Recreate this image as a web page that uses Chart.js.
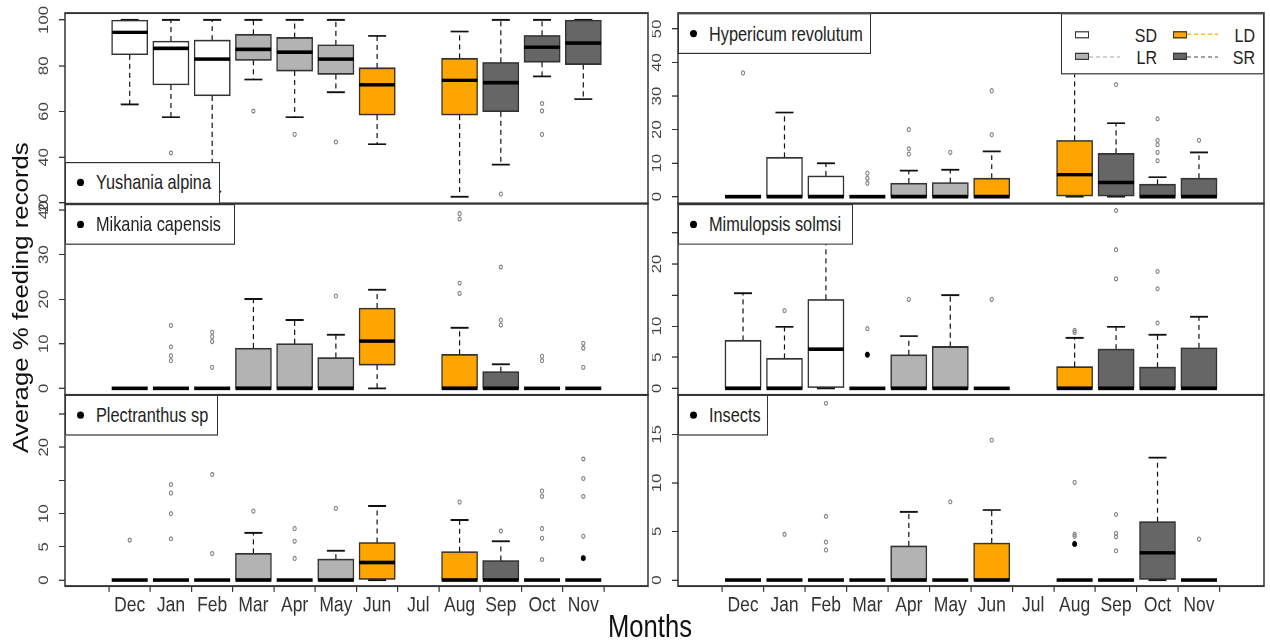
<!DOCTYPE html>
<html>
<head>
<meta charset="utf-8">
<script src="https://cdn.jsdelivr.net/npm/chart.js@4.4.0/dist/chart.umd.min.js"></script>
<style>
  html, body { margin: 0; padding: 0; background: #fff; overflow: hidden; }
  body { width: 1270px; height: 644px; position: relative; font-family: "Liberation Sans", Arial, sans-serif; }
  /* the reference is stretched vertically by about 1.2, so draw in an unstretched stage and scale it */
  #stage { position: absolute; left: 0; top: 0; width: 1270px; height: 536.67px; transform: scaleY(1.2); transform-origin: 0 0; }
  canvas { position: absolute; }
  .tag { position: absolute; background: #fff; border: 1px solid #333; box-sizing: border-box; z-index: 2; color: #222; font-size: 16.3px; white-space: nowrap; }
  .tag .dot { position: absolute; left: 11px; top: 50%; width: 7px; height: 6px; margin-top: -3px; border-radius: 50%; background: #000; }
  .tag .txt { position: absolute; left: 30px; top: 50%; transform: translateY(-50%); line-height: 1; }
  #groups { position: absolute; left: 1061px; top: 10.83px; width: 203px; height: 50.8px; background: #fff; border: 1px solid #333; box-sizing: border-box; z-index: 2; }
  .gsq { position: absolute; width: 14px; height: 5.6px; border: 1px solid #333; box-sizing: border-box; }
  .gline { position: absolute; height: 1px; }
  .gtxt { position: absolute; font-size: 16px; color: #222; line-height: 1; transform: translate(-100%, -50%); }
  #ytitle { position: absolute; left: 22px; top: 248px; transform: translate(-50%, -50%) rotate(-90deg); font-size: 21.5px; color: #111; white-space: nowrap; line-height: 1; }
  #xtitle { position: absolute; left: 650px; top: 510px; transform: translateX(-50%); font-size: 25.6px; color: #111; white-space: nowrap; line-height: 1; }
</style>
</head>
<body>
<div id="stage">
  <div id="ytitle">Average % feeding records</div>
  <div id="xtitle">Months</div>
  <div id="groups"></div>
</div>
<script>
const FONT = '"Liberation Sans", Arial, sans-serif';

const months = ['Dec', 'Jan', 'Feb', 'Mar', 'Apr', 'May', 'Jun', 'Jul', 'Aug', 'Sep', 'Oct', 'Nov'];
const monthGroup = ['SD', 'SD', 'SD', 'LR', 'LR', 'LR', 'LD', null, 'LD', 'SR', 'SR', 'SR'];
const groupNames = ['SD', 'LR', 'LD', 'SR'];
const groupColors = ['#ffffff', '#b3b3b3', '#ffa500', '#666666'];

// each month: [lower whisker, Q1, median, Q3, upper whisker]
const Z = [0, 0, 0, 0, 0];

const yushaniaStats = [
  [63.1, 84.8, 94.6, 100, 100],
  [57.5, 71.6, 87.6, 90.8, 100],
  [25, 66.9, 82.9, 91.2, 100],
  [74.0, 82.4, 87.2, 93.7, 100],
  [57.5, 77.7, 85.9, 92.3, 100],
  [68.4, 76.2, 82.9, 89.1, 100],
  [45.7, 58.4, 71.7, 79.1, 93.1],
  null,
  [22.7, 58.4, 73.6, 83.2, 95.0],
  [36.8, 59.9, 72.6, 81.5, 100],
  [75.4, 81.5, 88.1, 93.3, 100],
  [65.4, 80.6, 89.9, 100, 100]
];
const yushaniaOut = [['Jan', 41.9], ['Mar', 60.2], ['Apr', 50.0], ['May', 46.7], ['Sep', 23.9],
  ['Oct', 63.5], ['Oct', 60.3], ['Oct', 50.0]];

const mikaniaStats = [
  Z, Z, Z,
  [0, 0, 0, 9.0, 20.0],
  [0, 0, 0, 10.0, 15.3],
  [0, 0, 0, 6.9, 12.0],
  [0, 5.2, 10.6, 18.0, 22.1],
  null,
  [0, 0, 0, 7.6, 13.6],
  [0, 0, 0, 3.7, 5.4],
  Z, Z
];
const mikaniaOut = [['Jan', 14.1], ['Jan', 9.3], ['Jan', 7.3], ['Jan', 6.2],
  ['Feb', 12.6], ['Feb', 11.6], ['Feb', 10.5], ['Feb', 4.7], ['May', 20.7],
  ['Aug', 39.2], ['Aug', 38.0], ['Aug', 23.6], ['Aug', 21.3],
  ['Sep', 27.2], ['Sep', 15.3], ['Sep', 14.2], ['Oct', 7.2], ['Oct', 6.2],
  ['Nov', 10.1], ['Nov', 9.0], ['Nov', 4.7]];

const plectranthusStats = [
  Z, Z, Z,
  [0, 0, 0, 4.0, 7.1],
  Z,
  [0, 0, 0, 3.15, 4.4],
  [0, 0, 2.65, 5.65, 11.15],
  null,
  [0, 0, 0, 4.25, 9.05],
  [0, 0, 0, 2.95, 5.85],
  Z, Z
];
const plectranthusOut = [['Dec', 6.0], ['Jan', 14.4], ['Jan', 13.1], ['Jan', 10.0], ['Jan', 6.2],
  ['Feb', 15.9], ['Feb', 4.0], ['Mar', 10.4], ['Apr', 7.75], ['Apr', 5.85], ['Apr', 3.25],
  ['May', 10.8], ['Aug', 11.75], ['Sep', 7.4],
  ['Oct', 13.4], ['Oct', 12.6], ['Oct', 7.75], ['Oct', 6.3], ['Oct', 3.1],
  ['Nov', 18.25], ['Nov', 15.3], ['Nov', 12.6], ['Nov', 6.6]];
const plectranthusDark = [['Nov', 3.3]];

const hypericumStats = [
  Z,
  [0, 0, 0, 11.7, 25.1],
  [0, 0, 0, 6.2, 10.0],
  Z,
  [0, 0, 0, 4.0, 7.8],
  [0, 0, 0, 4.2, 8.0],
  [0, 0, 0, 5.5, 13.5],
  null,
  [0, 0, 6.6, 16.8, 45],
  [0, 0, 4.2, 12.9, 21.9],
  [0, 0, 0, 3.7, 5.8],
  [0, 0, 0, 5.5, 13.2]
];
const hypericumOut = [['Dec', 36.9], ['Mar', 7.0], ['Mar', 5.5], ['Mar', 4.0],
  ['Apr', 20.0], ['Apr', 14.3], ['Apr', 12.7], ['May', 13.2], ['Jun', 31.6], ['Jun', 18.5],
  ['Sep', 33.4], ['Oct', 23.2], ['Oct', 16.8], ['Oct', 15.5], ['Oct', 13.2], ['Oct', 10.7],
  ['Nov', 16.8]];

const mimulopsisStats = [
  [0, 0, 0, 7.7, 15.3],
  [0, 0, 0, 4.8, 9.9],
  [0, 0, 6.3, 14.3, 26],
  Z,
  [0, 0, 0, 5.4, 8.4],
  [0, 0, 0, 6.7, 15.0],
  Z,
  null,
  [0, 0, 0, 3.5, 8.1],
  [0, 0, 0, 6.3, 9.9],
  [0, 0, 0, 3.4, 8.6],
  [0, 0, 0, 6.5, 11.5]
];
const mimulopsisOut = [['Jan', 12.5], ['Mar', 9.6], ['Apr', 14.3], ['Jun', 14.3],
  ['Aug', 9.3], ['Aug', 9.0], ['Sep', 28.6], ['Sep', 22.3], ['Sep', 17.6],
  ['Oct', 18.8], ['Oct', 16.0], ['Oct', 10.5]];
const mimulopsisDark = [['Mar', 5.4]];

const insectsStats = [
  Z, Z, Z, Z,
  [0, 0, 0, 3.5, 7.0],
  Z,
  [0, 0, 0, 3.8, 7.2],
  null,
  Z, Z,
  [0, 0, 2.8, 6.0, 12.6],
  Z
];
const insectsOut = [['Jan', 4.7], ['Feb', 18.2], ['Feb', 6.55], ['Feb', 3.9], ['Feb', 3.1],
  ['May', 8.05], ['Jun', 14.4], ['Aug', 10.05], ['Aug', 4.7], ['Aug', 4.5],
  ['Sep', 6.75], ['Sep', 4.8], ['Sep', 4.45], ['Sep', 3.0], ['Nov', 4.2]];
const insectsDark = [['Aug', 3.7]];

const panels = [
  { title: 'Yushania alpina', stats: yushaniaStats, out: yushaniaOut, dark: [], col: 0, row: 0,
    yMin: 19.8, yMax: 103.06, ticks: [20, 40, 60, 80, 100], tickText: ['20', '40', '60', '80', '100'], tagW: 155, tagAt: 'bottom' },
  { title: 'Mikania capensis', stats: mikaniaStats, out: mikaniaOut, dark: [], col: 0, row: 1,
    yMin: -1.5, yMax: 41.46, ticks: [0, 10, 20, 30, 40], tickText: ['0', '10', '20', '30', '40'], tagW: 170, tagAt: 'top' },
  { title: 'Plectranthus sp', stats: plectranthusStats, out: plectranthusOut, dark: plectranthusDark, col: 0, row: 2,
    yMin: -0.9, yMax: 27.88, ticks: [0, 5, 10, 15, 20, 25], tickText: ['0', '5', '10', '', '20', ''], tagW: 153, tagAt: 'top' },
  { title: 'Hypericum revolutum', stats: hypericumStats, out: hypericumOut, dark: [], col: 1, row: 0,
    yMin: -2.03, yMax: 54.77, ticks: [0, 10, 20, 30, 40, 50], tickText: ['0', '10', '20', '30', '40', '50'], tagW: 193, tagAt: 'top' },
  { title: 'Mimulopsis solmsi', stats: mimulopsisStats, out: mimulopsisOut, dark: mimulopsisDark, col: 1, row: 1,
    yMin: -1.08, yMax: 29.73, ticks: [0, 5, 10, 15, 20, 25], tickText: ['0', '5', '10', '', '20', ''], tagW: 175, tagAt: 'top' },
  { title: 'Insects', stats: insectsStats, out: insectsOut, dark: insectsDark, col: 1, row: 2,
    yMin: -0.62, yMax: 19.05, ticks: [0, 5, 10, 15], tickText: ['0', '5', '10', '15'], tagW: 90, tagAt: 'top' }
];

// panel frames in stage units (y is unstretched)
const rowTop = [10.83, 169.58, 329.17];
const rowBottom = [169.58, 329.17, 488.33];
const colLeft = [65, 678];
const colRight = [651, 1264];
const PAD = 20;
const X_AXIS_H = 48;
const TAG_H = 34.2;

const stage = document.getElementById('stage');

function colorOf(monthIndex) {
    return groupColors[groupNames.indexOf(monthGroup[monthIndex])];
}

function boxPlugin(p) {
    return {
        id: 'boxes',
        beforeDatasetsDraw(chart) {
            const xs = chart.scales.x, ys = chart.scales.y, ctx = chart.ctx;
            ctx.save();
            ctx.strokeStyle = '#111';
            ctx.lineCap = 'butt';
            p.stats.forEach((s, i) => {
                if (!s) return;
                const x = xs.getPixelForValue(i + 1);
                const [lo, q1, , q3, hi] = s.map(v => ys.getPixelForValue(v));
                ctx.lineWidth = 1.2;
                ctx.setLineDash([4.2, 3.3]);
                ctx.beginPath();
                ctx.moveTo(x, q3); ctx.lineTo(x, hi);
                ctx.moveTo(x, q1); ctx.lineTo(x, lo);
                ctx.stroke();
                ctx.setLineDash([]);
                ctx.lineWidth = 1.5;
                ctx.beginPath();
                ctx.moveTo(x - 9, hi); ctx.lineTo(x + 9, hi);
                ctx.moveTo(x - 9, lo); ctx.lineTo(x + 9, lo);
                ctx.stroke();
            });
            ctx.restore();
        },
        afterDatasetsDraw(chart) {
            const xs = chart.scales.x, ys = chart.scales.y, ctx = chart.ctx;
            ctx.save();
            ctx.strokeStyle = '#000';
            ctx.lineWidth = 3;
            ctx.lineCap = 'butt';
            p.stats.forEach((s, i) => {
                if (!s) return;
                const x = xs.getPixelForValue(i + 1);
                const y = ys.getPixelForValue(s[2]);
                ctx.beginPath();
                ctx.moveTo(x - 18, y); ctx.lineTo(x + 18, y);
                ctx.stroke();
            });
            ctx.restore();
        },
        afterDraw(chart) {
            const a = chart.chartArea, ys = chart.scales.y, ctx = chart.ctx;
            ctx.save();
            ctx.strokeStyle = '#333';
            ctx.lineWidth = 1.5;
            ctx.strokeRect(a.left, a.top, a.right - a.left, a.bottom - a.top);
            ctx.fillStyle = '#444';
            ctx.font = '14px ' + FONT;
            ctx.textAlign = 'center';
            ctx.textBaseline = 'middle';
            p.ticks.forEach((v, i) => {
                if (!p.tickText[i]) return;
                ctx.save();
                ctx.translate(a.left - 21, ys.getPixelForValue(v));
                ctx.rotate(-Math.PI / 2);
                ctx.fillText(p.tickText[i], 0, 0);
                ctx.restore();
            });
            ctx.restore();
        }
    };
}

function makePanel(p) {
    const bottomRow = p.row === 2;
    const left = p.col === 0 ? 0 : 652;
    const width = p.col === 0 ? 653 : 618;
    const axisW = colLeft[p.col] - left;
    const padR = left + width - colRight[p.col];
    const top = Math.floor(rowTop[p.row] - PAD);
    const padTop = rowTop[p.row] - top;
    const height = Math.ceil(rowBottom[p.row] + (bottomRow ? X_AXIS_H : PAD)) - top;
    const padBottom = top + height - rowBottom[p.row] - (bottomRow ? X_AXIS_H : 0);

    const canvas = document.createElement('canvas');
    canvas.width = width;
    canvas.height = height;
    canvas.style.left = left + 'px';
    canvas.style.top = top + 'px';
    stage.appendChild(canvas);

    const boxes = [];
    p.stats.forEach((s, i) => {
        if (s) boxes.push({ x: i + 1, y: [s[1], s[3]] });
    });
    const points = p.out.map(([m, v]) => ({ x: months.indexOf(m) + 1, y: v }));
    const darkPoints = p.dark.map(([m, v]) => ({ x: months.indexOf(m) + 1, y: v }));

    new Chart(canvas, {
        type: 'bar',
        data: {
            datasets: [
                {
                    type: 'scatter',
                    data: darkPoints,
                    pointStyle: 'circle',
                    pointRadius: 2,
                    pointBorderWidth: 1,
                    pointBorderColor: '#000',
                    pointBackgroundColor: '#000'
                },
                {
                    type: 'scatter',
                    data: points,
                    pointStyle: 'circle',
                    pointRadius: 1.6,
                    pointBorderWidth: 1,
                    pointBorderColor: '#808080',
                    pointBackgroundColor: 'rgba(255,255,255,0)'
                },
                {
                    type: 'bar',
                    data: boxes,
                    backgroundColor: ctx => colorOf(ctx.raw.x - 1),
                    borderColor: '#333',
                    borderWidth: 1.4,
                    borderSkipped: false,
                    barThickness: 36
                }
            ]
        },
        options: {
            responsive: false,
            animation: false,
            devicePixelRatio: 2,
            layout: { padding: { left: 0, right: padR, top: padTop, bottom: padBottom } },
            plugins: { legend: { display: false }, tooltip: { enabled: false } },
            scales: {
                x: {
                    type: 'linear',
                    min: 0.02,
                    max: 12.98,
                    display: bottomRow,
                    afterBuildTicks: s => { s.ticks = months.map((m, i) => ({ value: i + 1 })); },
                    afterFit: s => { if (bottomRow) s.height = X_AXIS_H; },
                    ticks: {
                        autoSkip: false,
                        maxRotation: 0,
                        minRotation: 0,
                        padding: 1,
                        color: '#333',
                        font: { family: FONT, size: 17.5 },
                        callback: v => months[v - 1]
                    },
                    grid: { drawOnChartArea: false, tickLength: 5, color: '#333', lineWidth: 1.2 },
                    border: { display: false }
                },
                y: {
                    min: p.yMin,
                    max: p.yMax,
                    afterBuildTicks: s => { s.ticks = p.ticks.map(v => ({ value: v })); },
                    afterFit: s => { s.width = axisW; },
                    ticks: { display: false },
                    grid: { drawOnChartArea: false, tickLength: 6, color: '#333', lineWidth: 1 },
                    border: { display: false }
                }
            }
        },
        plugins: [boxPlugin(p)]
    });

    // species label box
    const tag = document.createElement('div');
    tag.className = 'tag';
    tag.style.left = colLeft[p.col] + 'px';
    tag.style.width = p.tagW + 'px';
    tag.style.height = TAG_H + 'px';
    tag.style.top = (p.tagAt === 'top' ? rowTop[p.row] : rowBottom[p.row] - TAG_H) + 'px';
    tag.innerHTML = '<span class="dot"></span><span class="txt"></span>';
    tag.querySelector('.txt').textContent = p.title;
    stage.appendChild(tag);
}

panels.forEach(makePanel);

// season legend (two columns: SD/LR, LD/SR)
const groupBox = document.getElementById('groups');
const rowY = [17.1, 35.4];
groupNames.forEach((g, i) => {
    const col = Math.floor(i / 2), row = i % 2;
    const sqLeft = 13 + col * 98;
    const sq = document.createElement('div');
    sq.className = 'gsq';
    sq.style.left = sqLeft + 'px';
    sq.style.top = (rowY[row] - 2.8) + 'px';
    sq.style.background = groupColors[i];
    groupBox.appendChild(sq);
    const line = document.createElement('div');
    line.className = 'gline';
    line.style.left = (sqLeft + 14) + 'px';
    line.style.width = '31px';
    line.style.top = (rowY[row] - 0.5) + 'px';
    line.style.background = 'repeating-linear-gradient(90deg, ' + groupColors[i] + ' 0 4px, transparent 4px 7px)';
    groupBox.appendChild(line);
    const t = document.createElement('div');
    t.className = 'gtxt';
    t.style.left = (95 + col * 98) + 'px';
    t.style.top = (rowY[row] + 1) + 'px';
    t.textContent = g;
    groupBox.appendChild(t);
});
</script>
</body>
</html>
